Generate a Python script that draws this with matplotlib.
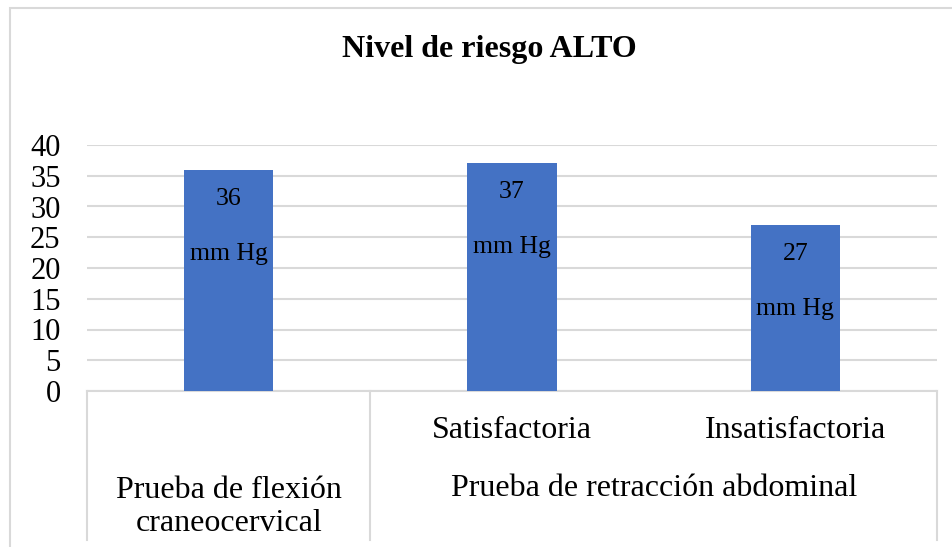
import matplotlib
matplotlib.use("Agg")
import matplotlib.pyplot as plt
from matplotlib.patches import Rectangle
from matplotlib.lines import Line2D

# Datos
grupos = ["Prueba de flexión\ncraneocervical", "Prueba de retracción abdominal"]
subcategorias = ["", "Satisfactoria", "Insatisfactoria"]
grupo_de_barra = [0, 1, 1]
valores = [36, 37, 27]
unidad = "mm Hg"
yticks = [0, 5, 10, 15, 20, 25, 30, 35, 40]

AZUL = "#4472C4"
GRIS = "#D9D9D9"

plt.rcParams["font.family"] = ["Liberation Serif", "DejaVu Serif"]

W, H = 953, 547
fig = plt.figure(figsize=(W / 100, H / 100), dpi=100)

# borde del área del gráfico (cortado a la derecha y abajo)
fig.patches.append(Rectangle((10 / W, -0.2), 1.2, 1.2 - 8 / H, transform=fig.transFigure,
                             fill=False, edgecolor=GRIS, linewidth=1.5))

# área de trazado en píxeles: x 87..937, y 145 (40) .. 391 (0)
ax = fig.add_axes([87 / W, (H - 391) / H, 850 / W, 246 / H])
x = list(range(len(valores)))
ax.bar(x, valores, width=0.315, color=AZUL, zorder=3)
ax.set_xlim(-0.5, len(valores) - 0.5)
ax.set_ylim(0, 40)
ax.set_yticks(yticks)
ax.set_yticklabels([str(t) for t in yticks], fontsize=22)
ax.tick_params(axis="y", length=0, pad=19)
ax.tick_params(axis="x", length=0, labelbottom=False)
ax.grid(axis="y", color=GRIS, linewidth=1.5, zorder=0)
for s in ["top", "right", "left"]:
    ax.spines[s].set_visible(False)
ax.spines["bottom"].set_color(GRIS)
ax.spines["bottom"].set_linewidth(1.5)

# etiquetas de datos dentro de las barras
for xi, v in zip(x, valores):
    ax.annotate(str(v), (xi, v), xytext=(0, -29), textcoords="offset pixels",
                ha="center", va="center", fontsize=18.5, zorder=4)
    ax.annotate(unidad, (xi, v), xytext=(0, -84), textcoords="offset pixels",
                ha="center", va="center", fontsize=18.5, zorder=4)

# eje de categorías de dos niveles
tr = ax.get_xaxis_transform()
fondo = -(540 - 391) / 246
limites = [-0.5]
for i in range(1, len(grupo_de_barra)):
    if grupo_de_barra[i] != grupo_de_barra[i - 1]:
        limites.append(i - 0.5)
limites.append(len(valores) - 0.5)
for lx in limites:
    ax.add_line(Line2D([lx, lx], [0, fondo], transform=tr, color=GRIS,
                       linewidth=1.5, clip_on=False))

for xi, nombre in zip(x, subcategorias):
    if nombre:
        ax.annotate(nombre, (xi, 0), xycoords=tr, xytext=(0, -39),
                    textcoords="offset pixels", ha="center", va="center", fontsize=23)

for g, nombre in enumerate(grupos):
    miembros = [i for i, gb in enumerate(grupo_de_barra) if gb == g]
    centro = (min(miembros) + max(miembros)) / 2
    dy = -116 if "\n" in nombre else -97
    ax.annotate(nombre, (centro, 0), xycoords=tr, xytext=(0, dy),
                textcoords="offset pixels", ha="center", va="center",
                fontsize=23, linespacing=1.15)

fig.text(489 / W, 1 - 50 / H, "Nivel de riesgo ALTO", ha="center", va="center",
         fontsize=23, fontweight="bold")

fig.savefig("out.png", dpi=100)
